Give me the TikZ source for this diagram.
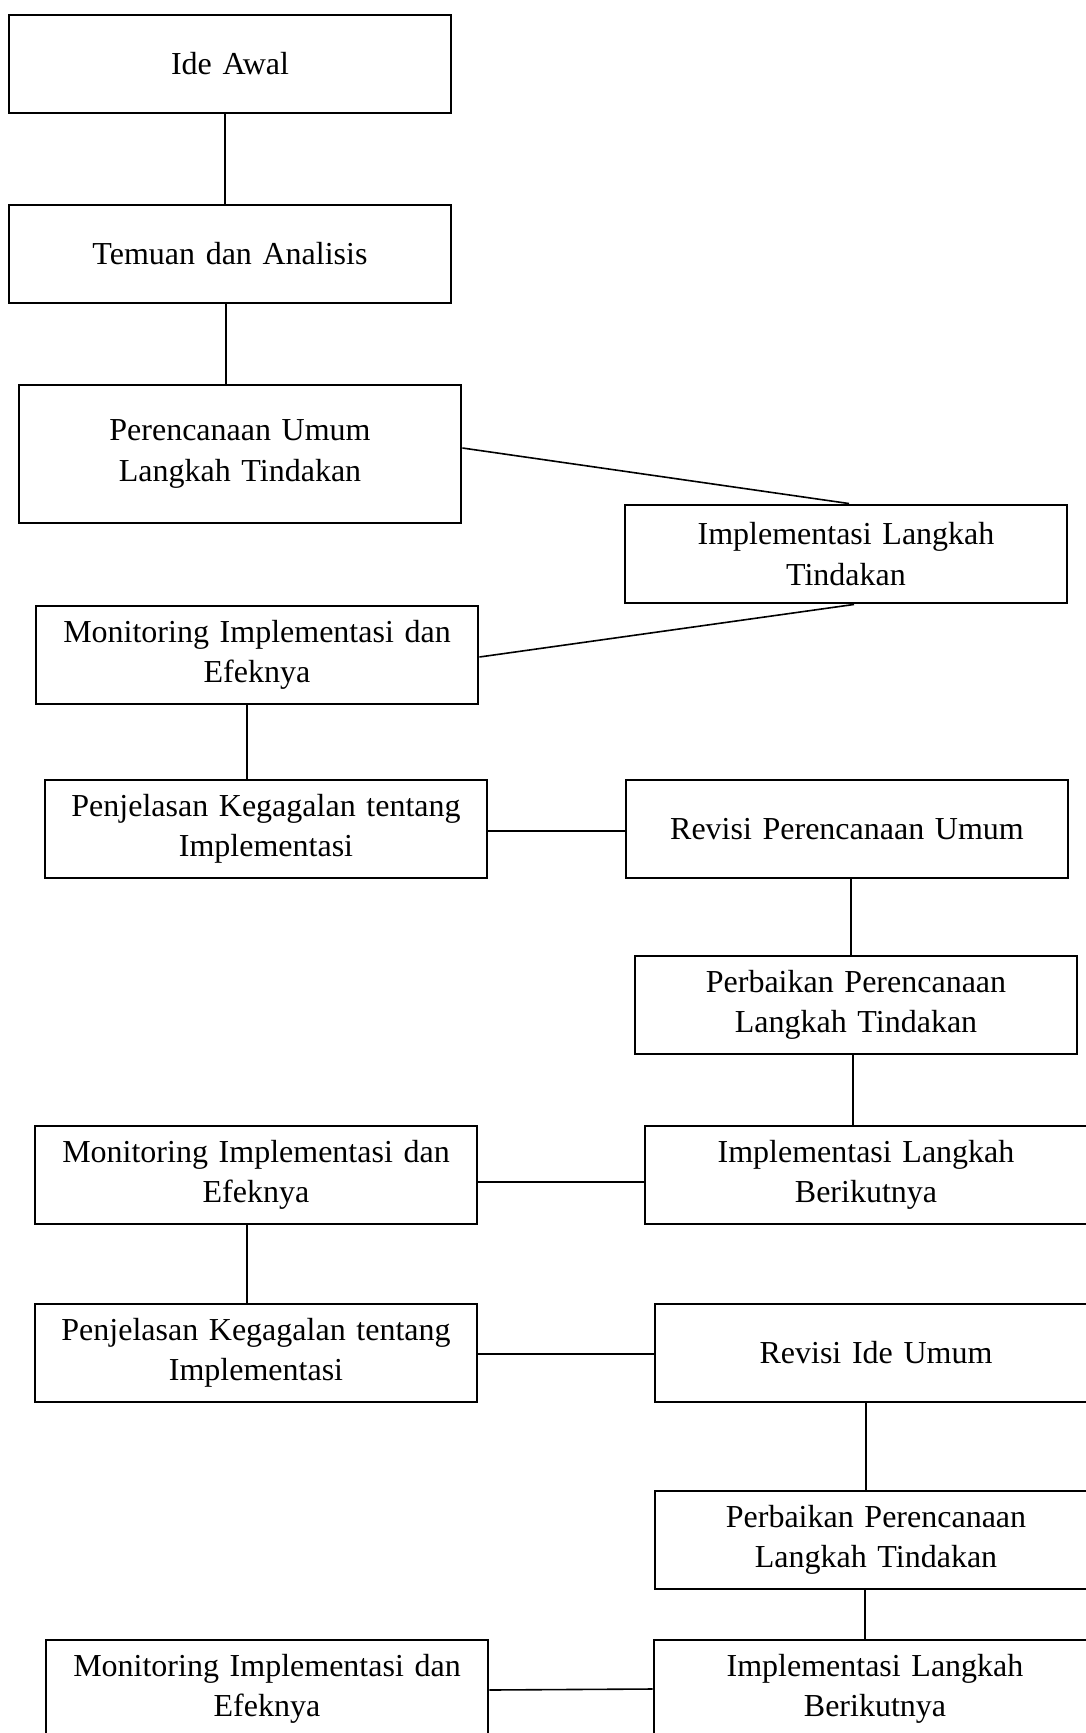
\documentclass[tikz,border=0pt]{standalone}
\usepackage{fontspec}
\setmainfont{Liberation Serif}
\begin{document}
\begin{tikzpicture}[x=1pt,y=-1pt,
  box/.style={draw, line width=2.9pt, rectangle, inner sep=0pt, minimum width=442pt, minimum height=98pt,
    text width=436pt, align=center, font=\fontsize{32}{40.5}\selectfont},
  link/.style={line width=1.6pt},
  thicklink/.style={line width=2.6pt}]
\path[use as bounding box, clip] (0,0) rectangle (1086,1733);
\fill[white] (0,0) rectangle (1086,1733);

\node[box] (ide)    at (230,64)    {Ide Awal};
\node[box] (temuan) at (230,254)   {Temuan dan Analisis};
\node[box, minimum height=138pt] (perenc) at (240,454) {Perencanaan Umum\\Langkah Tindakan};
\node[box] (impl1)  at (846,554)   {Implementasi Langkah\\Tindakan};
\node[box] (mon1)   at (257,655)   {Monitoring Implementasi dan\\Efeknya};
\node[box] (penj1)  at (266,829)   {Penjelasan Kegagalan tentang\\Implementasi};
\node[box] (revpu)  at (847,829)   {Revisi Perencanaan Umum};
\node[box] (perb1)  at (856,1005)  {Perbaikan Perencanaan\\Langkah Tindakan};
\node[box] (implb1) at (866,1175)  {Implementasi Langkah\\Berikutnya};
\node[box] (mon2)   at (256,1175)  {Monitoring Implementasi dan\\Efeknya};
\node[box] (penj2)  at (256,1353)  {Penjelasan Kegagalan tentang\\Implementasi};
\node[box] (reviu)  at (876,1353)  {Revisi Ide Umum};
\node[box] (perb2)  at (876,1540)  {Perbaikan Perencanaan\\Langkah Tindakan};
\node[box] (mon3)   at (267,1689)  {Monitoring Implementasi dan\\Efeknya};
\node[box] (implb2) at (875,1689)  {Implementasi Langkah\\Berikutnya};

\draw[thicklink] ([xshift=-5pt]ide.south) -- ([xshift=-5pt]ide.south |- temuan.north);
\draw[link] ([xshift=-4pt]temuan.south) -- ([xshift=-4pt]temuan.south |- perenc.north);
\draw[link] ([yshift=6pt]perenc.east) -- ([xshift=3pt]impl1.north);
\draw[link] ([yshift=-2pt]mon1.east) -- ([xshift=8pt]impl1.south);
\draw[link] ([xshift=-10pt]mon1.south) -- ([xshift=-10pt]mon1.south |- penj1.north);
\draw[link] ([yshift=-2pt]penj1.east) -- ([yshift=-2pt]penj1.east -| revpu.west);
\draw[link] ([xshift=4pt]revpu.south) -- ([xshift=4pt]revpu.south |- perb1.north);
\draw[link] ([xshift=-3pt]perb1.south) -- ([xshift=-3pt]perb1.south |- implb1.north);
\draw[link] ([yshift=-7pt]mon2.east) -- ([yshift=-7pt]mon2.east -| implb1.west);
\draw[link] ([xshift=-9pt]mon2.south) -- ([xshift=-9pt]mon2.south |- penj2.north);
\draw[link] ([yshift=-1pt]penj2.east) -- ([yshift=-1pt]penj2.east -| reviu.west);
\draw[link] ([xshift=-10pt]reviu.south) -- ([xshift=-10pt]reviu.south |- perb2.north);
\draw[link] ([xshift=-11pt]perb2.south) -- ([xshift=-11pt]perb2.south |- implb2.north);
\draw[link] ([yshift=-1pt]mon3.east) -- (implb2.west);
\end{tikzpicture}
\end{document}
